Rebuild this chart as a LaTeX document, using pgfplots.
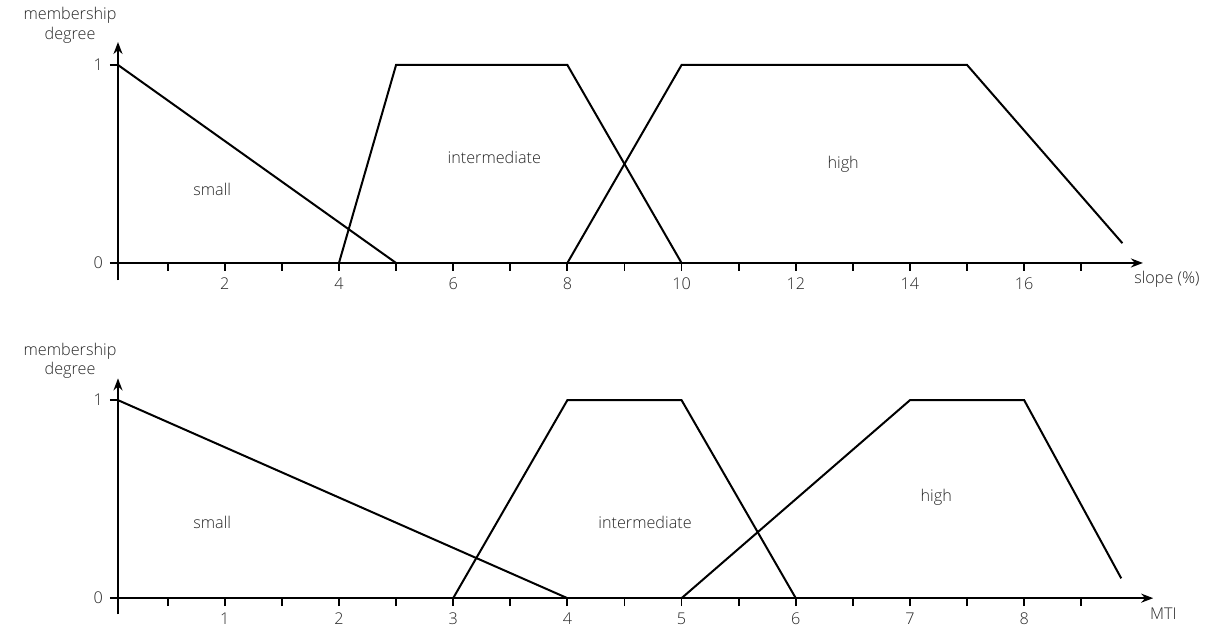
\documentclass[border=0pt]{standalone}
\usepackage{pgfplots}
\pgfplotsset{compat=1.18}
\usepackage{fontspec}
\setmainfont{Open Sans}[UprightFont={* Light}]
\usetikzlibrary{arrows.meta}
\begin{document}
\begin{tikzpicture}[font=\fontsize{8.1}{9.6}\selectfont]
\useasboundingbox (0,0) rectangle (606pt,314pt);
\pgfplotsset{
  fz/.style={
    axis lines=middle,
    axis line style={line width=1pt, -{Stealth[length=6pt,width=4.5pt]}},
    tick align=outside,
    major tick length=4pt, minor tick length=4pt,
    tick style={line width=0.9pt, black},
    enlargelimits=false, clip=false,
    ytick={0,1},
    hide obscured y ticks=false,
    hide obscured x ticks=false,
    /pgf/number format/assume math mode=true,
    ticklabel style={text=black!85},
  },
  mf/.style={black, line width=1pt, mark=none},
}
% top
\begin{axis}[fz, x=28.55pt, y=99pt,
  at={(59pt,174pt)}, anchor=south west,
  xmin=0.13, xmax=18.08, ymin=-0.086, ymax=1.116,
  xtick={2,4,...,16}, minor xtick={1,3,...,17}]
\addplot[mf] coordinates {(0.13,1) (5,0)};
\addplot[mf] coordinates {(4,0) (5,1) (8,1) (10,0)};
\addplot[mf] coordinates {(8,0) (10,1) (15,1) (17.72,0.1)};
\draw[line width=1pt] (axis cs:0.13,-0.086) -- (axis cs:0.13,0);
\node[text=black!85] at (axis cs:1.78,0.37) {small};
\node[text=black!85] at (axis cs:6.72,0.535) {intermediate};
\node[text=black!85] at (axis cs:12.83,0.5) {high};
\node[text=black!85] at (axis cs:18.5,-0.08) {slope (\%)};
\node[text=black!85, align=center, inner sep=0pt] at (axis cs:-0.71,1.2) {membership\\degree};
\end{axis}
% bottom
\begin{axis}[fz, x=57.1pt, y=99pt,
  at={(59pt,7pt)}, anchor=south west,
  xmin=0.065, xmax=9.13, ymin=-0.08, ymax=1.11,
  xtick={1,...,8}, minor xtick={0.5,1.5,...,8.5}]
\addplot[mf] coordinates {(0.065,1) (4,0)};
\addplot[mf] coordinates {(3,0) (4,1) (5,1) (6,0)};
\addplot[mf] coordinates {(5,0) (7,1) (8,1) (8.85,0.1)};
\draw[line width=1pt] (axis cs:0.065,-0.08) -- (axis cs:0.065,0);
\node[text=black!85] at (axis cs:0.89,0.38) {small};
\node[text=black!85] at (axis cs:4.68,0.38) {intermediate};
\node[text=black!85] at (axis cs:7.23,0.51) {high};
\node[text=black!85] at (axis cs:9.22,-0.08) {MTI};
\node[text=black!85, align=center, inner sep=0pt] at (axis cs:-0.355,1.2) {membership\\degree};
\end{axis}
\end{tikzpicture}
\end{document}
